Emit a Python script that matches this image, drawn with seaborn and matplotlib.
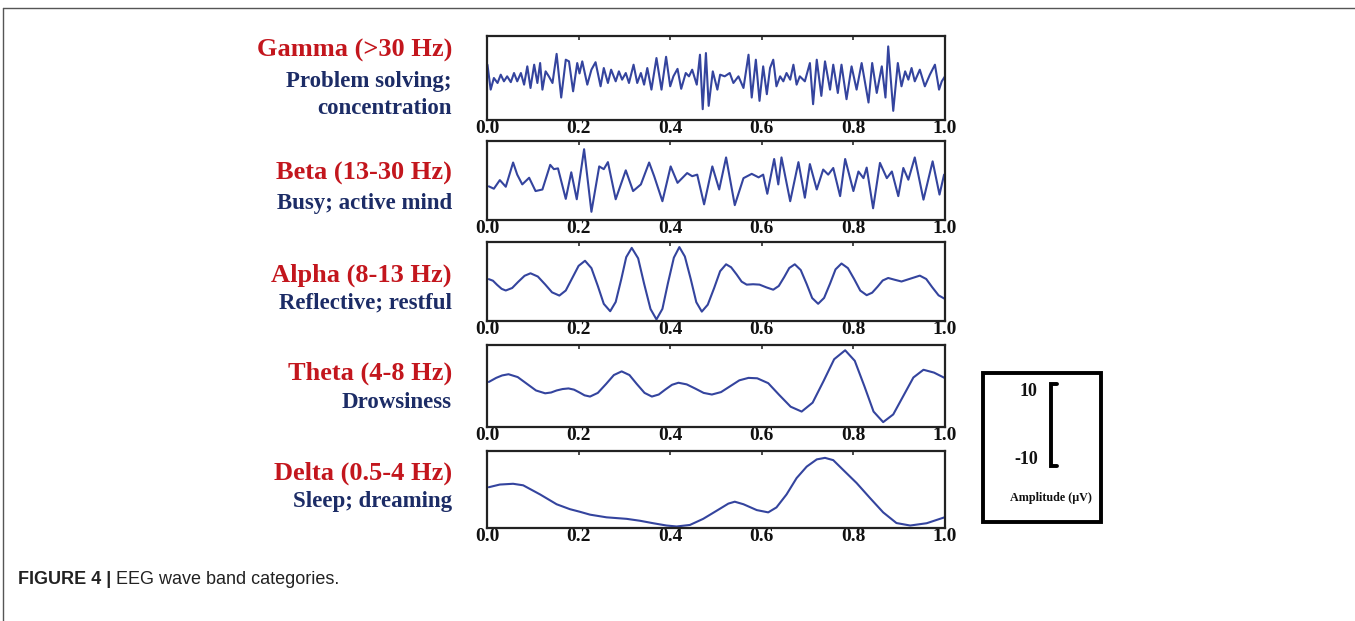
"""
EEG wave band categories - five stacked traces with a scale-bar box.
"""

import matplotlib
matplotlib.use("Agg")
import matplotlib.pyplot as plt
import seaborn as sns
from matplotlib.lines import Line2D
from matplotlib.patches import Rectangle

sns.set_theme(style="white")
plt.rcParams['font.family'] = ['Liberation Serif', 'DejaVu Serif']

# Band labels
band_names = ["Gamma (>30 Hz)", "Beta (13-30 Hz)", "Alpha (8-13 Hz)",
              "Theta (4-8 Hz)", "Delta (0.5-4 Hz)"]
band_notes = [["Problem solving;", "concentration"], ["Busy; active mind"],
              ["Reflective; restful"], ["Drowsiness"], ["Sleep; dreaming"]]
x_ticks = [0.0, 0.2, 0.4, 0.6, 0.8, 1.0]
scale_labels = ["10", "-10"]

# Traces: time (s) and amplitude (uV)
gamma_t = [0.001, 0.008, 0.015, 0.023, 0.030, 0.037, 0.044, 0.052, 0.059, 0.066,
           0.074, 0.081, 0.088, 0.095, 0.103, 0.110, 0.116, 0.121, 0.128, 0.135,
           0.143, 0.152, 0.162, 0.172, 0.179, 0.188, 0.197, 0.202, 0.208, 0.219,
           0.228, 0.237, 0.248, 0.255, 0.264, 0.271, 0.281, 0.288, 0.295, 0.303,
           0.310, 0.320, 0.328, 0.336, 0.343, 0.350, 0.359, 0.370, 0.381, 0.391,
           0.400, 0.407, 0.416, 0.424, 0.434, 0.441, 0.448, 0.458, 0.465, 0.471,
           0.478, 0.484, 0.493, 0.503, 0.509, 0.519, 0.530, 0.538, 0.549, 0.560,
           0.571, 0.578, 0.587, 0.595, 0.603, 0.611, 0.618, 0.625, 0.632, 0.640,
           0.647, 0.654, 0.662, 0.669, 0.676, 0.683, 0.694, 0.705, 0.712, 0.720,
           0.730, 0.738, 0.749, 0.756, 0.766, 0.774, 0.785, 0.796, 0.807, 0.818,
           0.833, 0.841, 0.851, 0.862, 0.870, 0.876, 0.887, 0.897, 0.905, 0.913,
           0.920, 0.927, 0.934, 0.945, 0.956, 0.967, 0.978, 0.987, 0.993, 1.000]
gamma_uv = [3.1, -2.9, -0.1, -1.3, 0.7, -0.9, 0.3, -1.1, 1.1, -0.9,
            1.1, -1.7, 2.7, -2.5, 3.1, -1.3, 3.5, -2.9, 1.5, 0.3,
            -1.3, 5.7, -4.8, 4.3, 3.9, -3.3, 3.5, 1.0, 3.9, -1.7,
            1.9, 3.7, -2.1, 2.3, -1.3, 1.9, -0.9, 1.5, -0.5, 1.1,
            -1.3, 3.1, -1.3, 1.1, -1.7, 2.3, -2.9, 4.7, -2.9, 5.0,
            -2.1, 0.3, 2.1, -2.7, 1.1, 0.3, 1.9, -1.7, 5.5, -7.6,
            5.9, -6.8, 1.5, -2.9, 0.7, 0.3, 1.1, -1.3, 0.3, -2.5,
            5.5, -4.8, 4.3, -5.6, 2.7, -4.0, 2.3, 4.3, -2.1, 0.3,
            -0.9, 1.1, -0.5, 3.1, -1.7, 0.3, -0.9, 3.5, -6.4, 4.3,
            -4.4, 3.9, -2.9, 3.1, -3.7, 3.1, -5.2, 2.7, -2.9, 3.5,
            -6.0, 3.5, -3.7, 2.7, -4.8, 7.5, -8.0, 3.5, -2.1, 1.5,
            -0.5, 2.3, -0.9, 1.9, -2.1, 0.7, 3.1, -2.9, -0.9, 0.3]

beta_t = [0.004, 0.015, 0.028, 0.041, 0.057, 0.066, 0.077, 0.092, 0.106, 0.121,
          0.138, 0.146, 0.155, 0.172, 0.184, 0.196, 0.212, 0.228, 0.245, 0.255,
          0.264, 0.281, 0.303, 0.319, 0.336, 0.354, 0.365, 0.383, 0.401, 0.416,
          0.437, 0.448, 0.459, 0.474, 0.492, 0.507, 0.522, 0.541, 0.560, 0.578,
          0.593, 0.603, 0.612, 0.627, 0.636, 0.643, 0.662, 0.680, 0.694, 0.705,
          0.720, 0.734, 0.745, 0.756, 0.771, 0.782, 0.800, 0.811, 0.822, 0.829,
          0.843, 0.858, 0.873, 0.884, 0.898, 0.909, 0.920, 0.934, 0.953, 0.973,
          0.988, 0.998]
beta_uv = [-1.6, -2.2, 0.0, -1.7, 4.5, 1.4, -1.1, 0.6, -2.8, -2.4,
           3.9, 2.8, 3.0, -4.8, 2.0, -4.9, 7.9, -8.1, 3.5, 2.8,
           4.6, -4.9, 2.5, -2.8, -1.1, 4.5, 1.0, -5.4, 3.5, -0.7,
           1.8, 1.0, 1.4, -6.2, 3.5, -2.4, 5.8, -6.4, 0.5, 1.6,
           0.7, 1.4, -3.5, 5.4, -1.1, 5.8, -5.4, 4.6, -4.5, 4.1,
           -2.4, 2.7, 1.4, 3.1, -4.1, 5.4, -2.8, 2.2, 0.5, 3.2,
           -7.2, 4.4, 0.5, 2.2, -4.1, 3.1, 0.1, 5.8, -5.0, 4.8,
           -3.7, 1.4]

alpha_t = [0.004, 0.013, 0.022, 0.032, 0.041, 0.055, 0.068, 0.082, 0.095, 0.111,
           0.127, 0.142, 0.158, 0.172, 0.186, 0.200, 0.214, 0.228, 0.242, 0.255,
           0.269, 0.281, 0.293, 0.304, 0.316, 0.330, 0.343, 0.357, 0.370, 0.383,
           0.395, 0.408, 0.420, 0.432, 0.445, 0.457, 0.469, 0.482, 0.496, 0.509,
           0.522, 0.533, 0.545, 0.556, 0.567, 0.581, 0.595, 0.610, 0.625, 0.637,
           0.649, 0.660, 0.672, 0.685, 0.698, 0.710, 0.723, 0.736, 0.749, 0.761,
           0.774, 0.788, 0.802, 0.815, 0.829, 0.841, 0.853, 0.864, 0.876, 0.890,
           0.905, 0.925, 0.945, 0.959, 0.972, 0.986, 0.999]
alpha_uv = [0.5, 0.1, -0.95, -1.98, -2.4, -1.76, -0.2, 1.36, 2.0, 1.17,
            -0.85, -2.87, -3.7, -2.4, 0.75, 3.9, 5.2, 3.32, -1.25, -5.82,
            -7.7, -5.33, 0.4, 6.13, 8.5, 5.83, -0.65, -7.13, -9.8, -7.1,
            -0.55, 6.0, 8.7, 6.29, 0.45, -5.39, -7.8, -6.03, -1.75, 2.53,
            4.3, 3.54, 1.7, -0.14, -0.9, -0.8, -0.9, -1.6, -2.2, -1.25,
            1.05, 3.35, 4.3, 2.83, -0.75, -4.33, -5.8, -4.3, -0.65, 3.0,
            4.5, 3.32, 0.45, -2.42, -3.6, -2.96, -1.4, 0.16, 0.8, 0.35,
            -0.1, 0.65, 1.4, 0.54, -1.55, -3.64, -4.5]

theta_t = [0.004, 0.020, 0.033, 0.047, 0.067, 0.087, 0.107, 0.127, 0.140, 0.152,
           0.165, 0.178, 0.190, 0.202, 0.213, 0.225, 0.242, 0.260, 0.277, 0.294,
           0.311, 0.327, 0.344, 0.360, 0.375, 0.389, 0.404, 0.418, 0.436, 0.455,
           0.473, 0.491, 0.511, 0.531, 0.551, 0.571, 0.590, 0.614, 0.638, 0.663,
           0.687, 0.711, 0.735, 0.758, 0.782, 0.803, 0.824, 0.844, 0.865, 0.887,
           0.909, 0.931, 0.953, 0.976, 0.999]
theta_uv = [0.9, 1.9, 2.5, 2.8, 2.1, 0.45, -1.2, -1.9, -1.7, -1.2,
            -0.85, -0.7, -1.0, -1.7, -2.4, -2.7, -1.8, 0.4, 2.6, 3.5,
            2.6, 0.4, -1.8, -2.7, -2.2, -1.0, 0.2, 0.7, 0.3, -0.75,
            -1.8, -2.2, -1.6, -0.15, 1.3, 1.9, 1.8, 0.6, -2.3, -5.2,
            -6.4, -4.2, 1.15, 6.5, 8.7, 6.1, -0.15, -6.4, -9.0, -7.1,
            -2.55, 2.0, 3.9, 3.2, 1.9]

delta_t = [0.004, 0.028, 0.057, 0.079, 0.116, 0.152, 0.181, 0.203, 0.225, 0.261,
           0.305, 0.334, 0.363, 0.392, 0.414, 0.443, 0.472, 0.501, 0.527, 0.541,
           0.560, 0.589, 0.614, 0.632, 0.654, 0.676, 0.698, 0.720, 0.738, 0.756,
           0.778, 0.807, 0.836, 0.865, 0.894, 0.924, 0.960, 0.999]
delta_uv = [0.5, 1.2, 1.4, 1.0, -1.4, -3.97, -5.26, -5.95, -6.7, -7.4,
            -7.8, -8.3, -8.95, -9.55, -9.8, -9.4, -7.8, -5.7, -3.8, -3.3,
            -3.97, -5.5, -6.1, -4.8, -1.4, 2.9, 5.9, 7.8, 8.2, 7.6,
            5.0, 1.6, -2.3, -6.1, -8.9, -9.55, -8.95, -7.4]

traces = [(gamma_t, gamma_uv), (beta_t, beta_uv), (alpha_t, alpha_uv),
          (theta_t, theta_uv), (delta_t, delta_uv)]

W, H = 1355, 621
RED = '#c3161d'
NAVY = '#1c2c66'
WAVE = '#34449e'

# pixel boxes of the five panels (top, bottom) and label rows
panel_rows = [(36, 120), (141, 220), (242, 321), (345, 427), (451, 528)]
name_rows = [50, 173, 275, 373, 473]
note_rows = [[81, 108], [203], [303], [403], [502]]

fig = plt.figure(figsize=(W / 100, H / 100), dpi=100)
fig.patch.set_facecolor('white')

x0, x1 = 487, 945
for (t, uv), (top, bot) in zip(traces, panel_rows):
    ax = fig.add_axes([x0 / W, 1 - bot / H, (x1 - x0) / W, (bot - top) / H])
    sns.lineplot(x=t, y=uv, ax=ax, color=WAVE, linewidth=1.5,
                 estimator=None, sort=False)
    ax.set_xlim(0, 1)
    ax.set_ylim(-10.2, 10)
    ax.set_yticks([])
    ax.set_xticks(x_ticks)
    ax.set_xticklabels([f"{v:.1f}" for v in x_ticks], fontsize=14,
                       fontweight='bold', color='#111111')
    ax.tick_params(axis='x', direction='in', length=3, top=True, pad=0,
                   color='#333333')
    ax.set_xlabel('')
    ax.set_ylabel('')
    for sp in ax.spines.values():
        sp.set_linewidth(1.6)
        sp.set_color('#222222')

# left labels
tx = 452 / W
for name, notes, ny, rows in zip(band_names, band_notes, name_rows, note_rows):
    fig.text(tx, 1 - ny / H, name, ha='right', va='center', fontsize=19,
             fontweight='bold', color=RED)
    for note, ry in zip(notes, rows):
        fig.text(tx, 1 - ry / H, note, ha='right', va='center', fontsize=16.5,
                 fontweight='bold', color=NAVY)

# amplitude scale box
fig.add_artist(Rectangle((983 / W, 1 - 522 / H), 118 / W, 149 / H,
                         transform=fig.transFigure, fill=False,
                         edgecolor='black', linewidth=2.8))
fig.text(1037 / W, 1 - 392 / H, scale_labels[0], ha='right', va='center',
         fontsize=13, fontweight='bold', color='#111111')
fig.text(1038 / W, 1 - 459 / H, scale_labels[1], ha='right', va='center',
         fontsize=13, fontweight='bold', color='#111111')
bx, btop, bbot, bcap = 1051 / W, 1 - 384 / H, 1 - 466 / H, 1057 / W
fig.add_artist(Line2D([bcap, bx, bx, bcap], [btop, btop, bbot, bbot],
                      transform=fig.transFigure, color='black', linewidth=2.8,
                      solid_joinstyle='miter'))
fig.text(1051 / W, 1 - 498 / H, "Amplitude (\u03bcV)", ha='center', va='center',
         fontsize=8.7, fontweight='bold', color='#111111')

# page frame
fig.add_artist(Line2D([3 / W, 1.0], [1 - 8 / H, 1 - 8 / H],
                      transform=fig.transFigure, color='#555555', linewidth=1))
fig.add_artist(Line2D([3 / W, 3 / W], [0, 1 - 8 / H],
                      transform=fig.transFigure, color='#555555', linewidth=1))

# caption
cap_font = ['Liberation Sans Narrow', 'Liberation Sans', 'DejaVu Sans']
c1 = fig.text(18 / W, 1 - 580 / H, "FIGURE 4 |", ha='left', va='center',
              fontsize=13, fontweight='bold', family=cap_font, color='#222222')
fig.canvas.draw()
bb = c1.get_window_extent()
fig.text(bb.x1 / W + 5 / W, 1 - 580 / H, "EEG wave band categories.",
         ha='left', va='center', fontsize=13, family=cap_font, color='#222222')

fig.savefig("out.png", dpi=100, facecolor='white')
